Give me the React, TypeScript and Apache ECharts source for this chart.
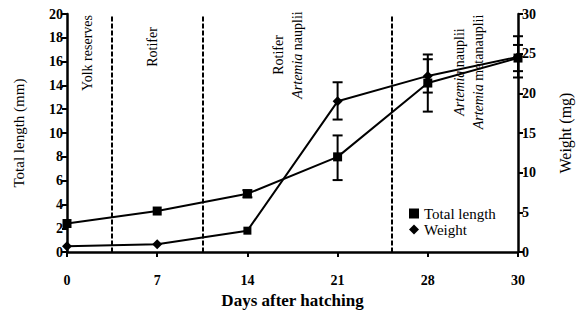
import React, { useEffect, useRef } from "react";
import * as echarts from "echarts";

const days = ["0", "7", "14", "21", "28", "30"];
const lengthValues = [2.4, 3.45, 4.9, 8.0, 14.2, 16.3];
const lengthErrLow = [2.4, 3.45, 4.6, 6.05, 11.8, 15.2];
const lengthErrHigh = [2.4, 3.45, 5.2, 9.8, 16.6, 17.4];
const weightValues = [0.75, 1.0, 2.7, 19.0, 22.2, 24.6];
const weightErrLow = [0.75, 1.0, 2.7, 16.7, 20.1, 22.0];
const weightErrHigh = [0.75, 1.0, 2.7, 21.4, 24.3, 27.2];
const phaseDividers = [0.5, 1.5, 3.6];

const FONT = "Liberation Serif";

export default function App() {
  const ref = useRef<HTMLDivElement>(null);
  useEffect(() => {
    if (!ref.current) return;
    const chart = echarts.init(ref.current, null, { renderer: "svg", width: 581, height: 314 });

    const errData = (lo: number[], hi: number[]) =>
      lo.map((l, i) => [i, l, hi[i]]).filter((d) => d[2] - d[1] > 0.01);

    const renderErr = (params: any, api: any) => {
      const x = api.value(0);
      const lo = api.coord([x, api.value(1)]);
      const hi = api.coord([x, api.value(2)]);
      const w = 5;
      const style = { stroke: "#000", lineWidth: 2 };
      return {
        type: "group",
        children: [
          { type: "line", shape: { x1: lo[0], y1: lo[1], x2: hi[0], y2: hi[1] }, style },
          { type: "line", shape: { x1: lo[0] - w, y1: lo[1], x2: lo[0] + w, y2: lo[1] }, style },
          { type: "line", shape: { x1: hi[0] - w, y1: hi[1], x2: hi[0] + w, y2: hi[1] }, style },
        ],
      };
    };

    const txtBase = {
      fontFamily: FONT,
      fontSize: 14,
      fill: "#000",
      align: "center",
      verticalAlign: "middle",
      lineHeight: 19,
    };
    const richItalic = {
      i: { fontStyle: "italic", fontFamily: FONT, fontSize: 14, lineHeight: 19, fill: "#000" },
      n: { fontFamily: FONT, fontSize: 14, lineHeight: 19, fill: "#000" },
    };

    chart.setOption({
      animation: false,
      textStyle: { fontFamily: FONT },
      grid: { left: 67, width: 453, top: 14, height: 242 },
      legend: {
        orient: "vertical",
        left: 404,
        top: 201,
        itemGap: 1,
        itemWidth: 10,
        itemHeight: 10,
        textStyle: { fontFamily: FONT, fontSize: 15, color: "#000" },
        data: [
          { name: "Total length", icon: "rect" },
          { name: "Weight", icon: "diamond" },
        ],
      },
      xAxis: {
        type: "value",
        min: 0,
        max: 5,
        interval: 1,
        name: "Days after hatching",
        nameLocation: "middle",
        nameGap: 37,
        nameTextStyle: { fontFamily: FONT, fontSize: 17, fontWeight: "bold", color: "#000" },
        axisLine: { lineStyle: { color: "#000", width: 2.5 } },
        axisTick: { length: 5, lineStyle: { color: "#000", width: 2 } },
        axisLabel: {
          formatter: (v: number) => days[v] ?? "",
          fontFamily: FONT,
          fontSize: 14,
          fontWeight: "bold",
          color: "#000",
          margin: 21,
        },
        splitLine: { show: false },
      },
      yAxis: [
        {
          type: "value",
          min: 0,
          max: 20,
          interval: 2,
          name: "Total length (mm)",
          nameLocation: "middle",
          nameGap: 41,
          nameTextStyle: { fontFamily: FONT, fontSize: 15, color: "#000" },
          axisLine: { show: true, lineStyle: { color: "#000", width: 2.5 } },
          axisTick: { show: true, length: 5, lineStyle: { color: "#000", width: 2 } },
          axisLabel: { fontFamily: FONT, fontSize: 14, fontWeight: "bold", color: "#000", margin: 4 },
          splitLine: { show: false },
        },
        {
          type: "value",
          min: 0,
          max: 30,
          interval: 5,
          position: "right",
          name: "Weight (mg)",
          nameLocation: "middle",
          nameGap: 39,
          nameRotate: 90,
          nameTextStyle: { fontFamily: FONT, fontSize: 16, color: "#000" },
          axisLine: { show: true, lineStyle: { color: "#000", width: 2.5 } },
          axisTick: { show: true, length: 5, lineStyle: { color: "#000", width: 2 } },
          axisLabel: { fontFamily: FONT, fontSize: 14, fontWeight: "bold", color: "#000", margin: 4 },
          splitLine: { show: false },
        },
      ],
      series: [
        {
          name: "Total length",
          type: "line",
          yAxisIndex: 0,
          data: lengthValues.map((v, i) => [i, v]),
          symbol: "rect",
          symbolSize: 9,
          itemStyle: { color: "#000" },
          lineStyle: { color: "#000", width: 2 },
          markLine: {
            silent: true,
            symbol: "none",
            label: { show: false },
            lineStyle: { color: "#000", width: 2, type: [5, 2] },
            data: phaseDividers.map((x) => [{ coord: [x, 19.8] }, { coord: [x, 0] }]),
          },
          z: 3,
        },
        {
          name: "Weight",
          type: "line",
          yAxisIndex: 1,
          data: weightValues.map((v, i) =>
            i === 2 ? { value: [i, v], symbol: "rect", symbolSize: 8 } : [i, v]
          ),
          symbol: "diamond",
          symbolSize: 10,
          itemStyle: { color: "#000" },
          lineStyle: { color: "#000", width: 2 },
          z: 3,
        },
        {
          name: "lenErr",
          type: "custom",
          yAxisIndex: 0,
          renderItem: renderErr,
          data: errData(lengthErrLow, lengthErrHigh),
          silent: true,
          z: 2,
        },
        {
          name: "wErr",
          type: "custom",
          yAxisIndex: 1,
          renderItem: renderErr,
          data: errData(weightErrLow, weightErrHigh),
          silent: true,
          z: 2,
        },
      ],
      graphic: [
        {
          type: "text",
          x: 87,
          y: 53,
          rotation: Math.PI / 2,
          style: { ...txtBase, text: "Yolk reserves" },
        },
        {
          type: "text",
          x: 152,
          y: 47,
          rotation: Math.PI / 2,
          style: { ...txtBase, text: "Rotifer" },
        },
        {
          type: "text",
          x: 288,
          y: 55,
          rotation: Math.PI / 2,
          style: {
            ...txtBase,
            text: "{n|Rotifer}\n{i|Artemia}{n| nauplii}",
            rich: richItalic,
          },
        },
        {
          type: "text",
          x: 469,
          y: 72,
          rotation: Math.PI / 2,
          style: {
            ...txtBase,
            text: "{i|Artemia}{n| nauplii}\n{i|Artemia}{n| metanauplii}",
            rich: richItalic,
          },
        },
      ],
    });
    return () => chart.dispose();
  }, []);
  return <div ref={ref} style={{ width: 581, height: 314, position: "absolute", left: 0, top: 0 }} />;
}
